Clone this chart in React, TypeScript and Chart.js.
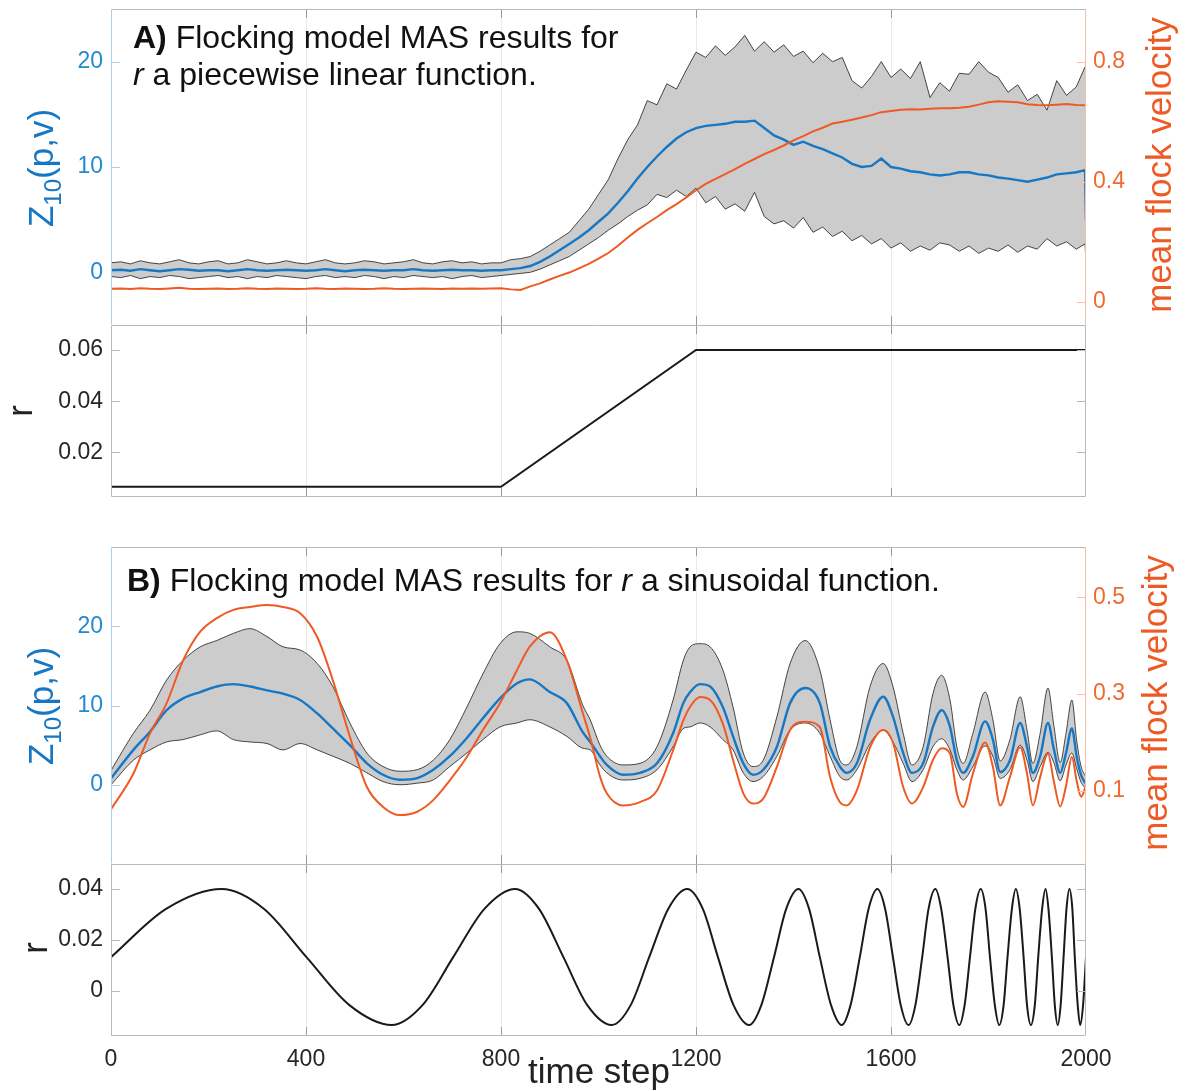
import React, { useEffect, useRef } from "react";
import { Chart, registerables } from "chart.js";
Chart.register(...registerables);

const W = 1197;
const H = 1091;
const FONT = '"Liberation Sans", Arial, Helvetica, sans-serif';

// ---------------- Panel A data (r piecewise linear) ----------------
const aTime = [
  0, 20, 40, 60, 80, 100, 120, 140, 160, 180, 200, 220, 240, 260, 280, 300, 320, 340, 360, 380,
  400, 420, 440, 460, 480, 500, 520, 540, 560, 580, 600, 620, 640, 660, 680, 700, 720, 740, 760, 780,
  800, 820, 840, 860, 880, 900, 920, 940, 960, 980, 1000, 1020, 1040, 1060, 1080, 1100, 1120, 1140, 1160, 1180,
  1200, 1220, 1240, 1260, 1280, 1300, 1320, 1340, 1360, 1380, 1400, 1420, 1440, 1460, 1480, 1500, 1520, 1540, 1560, 1580,
  1600, 1620, 1640, 1660, 1680, 1700, 1720, 1740, 1760, 1780, 1800, 1820, 1840, 1860, 1880, 1900, 1920, 1940, 1960, 1980,
  1998, 2000,
];
const aMean = [
  0.2, 0.25, 0.15, 0.3, 0.2, 0.1, 0.2, 0.3, 0.25, 0.15, 0.2, 0.2, 0.1, 0.2, 0.3, 0.2, 0.15, 0.2, 0.25, 0.2,
  0.15, 0.2, 0.3, 0.2, 0.1, 0.2, 0.25, 0.2, 0.15, 0.2, 0.2, 0.3, 0.2, 0.15, 0.2, 0.25, 0.2, 0.2, 0.15, 0.2,
  0.2, 0.3, 0.4, 0.6, 1.0, 1.5, 2.1, 2.7, 3.3, 4.0, 4.8, 5.6, 6.6, 7.7, 8.9, 10.0, 11.0, 11.9, 12.7, 13.3,
  13.7, 13.9, 14.0, 14.1, 14.3, 14.3, 14.4, 13.7, 13.0, 12.6, 12.1, 12.4, 12.0, 11.7, 11.3, 10.9, 10.3, 10.0, 10.1, 10.8,
  10.0, 9.85, 9.6, 9.5, 9.3, 9.2, 9.3, 9.5, 9.5, 9.3, 9.2, 9.0, 8.9, 8.75, 8.6, 8.8, 9.0, 9.3, 9.4, 9.5,
  9.7, 5.0,
];
const aUpper = [
  0.9, 1.0, 0.8, 1.1, 0.9, 0.8, 1.0, 1.2, 0.9, 0.8, 1.0, 1.1, 0.8, 0.9, 1.2, 1.0, 0.8, 0.9, 1.1, 0.9,
  0.8, 1.0, 1.2, 0.9, 0.8, 0.9, 1.1, 1.0, 0.8, 0.9, 1.0, 1.2, 0.9, 0.8, 1.0, 1.1, 0.9, 1.0, 0.8, 0.9,
  0.9, 1.2, 1.3, 1.5, 2.0, 2.6, 3.2, 3.8, 4.9, 6.0, 7.4, 8.8, 10.8, 12.6, 14.0, 16.3, 15.9, 17.9, 17.4, 19.2,
  20.9, 20.4, 21.5, 20.6, 21.4, 22.5, 21.0, 21.9, 20.9, 21.6, 20.5, 21.0, 19.9, 20.8, 20.0, 20.4, 18.2, 17.5, 18.6, 20.0,
  18.5, 19.3, 18.4, 20.0, 16.6, 18.0, 17.2, 18.9, 18.8, 20.0, 19.0, 18.5, 17.1, 17.8, 16.3, 16.9, 15.4, 18.2, 16.8, 17.6,
  19.5, 19.5,
];
const aLower = [
  -0.4, -0.5, -0.3, -0.6, -0.4, -0.5, -0.3, -0.4, -0.6, -0.5, -0.4, -0.3, -0.5, -0.4, -0.6, -0.4, -0.5, -0.3, -0.4, -0.5,
  -0.6, -0.4, -0.3, -0.5, -0.4, -0.5, -0.3, -0.4, -0.6, -0.4, -0.5, -0.3, -0.4, -0.5, -0.4, -0.6, -0.4, -0.3, -0.5, -0.4,
  -0.3, -0.2, -0.1, 0.0, 0.3, 0.7, 1.1, 1.5, 2.1, 2.7, 3.3, 4.0, 4.6, 5.3, 5.9, 6.4, 7.4, 7.1, 7.8, 7.2,
  8.0, 6.6, 7.2, 6.0, 6.5, 5.8, 7.6, 5.3, 4.6, 4.9, 4.2, 5.2, 3.8, 4.3, 3.4, 3.9, 3.0, 3.5, 2.7, 3.2,
  2.3, 2.8, 2.0, 2.5, 2.1, 2.8, 2.6, 2.0, 2.5, 1.8, 2.3, 2.0, 2.6, 1.9, 2.5, 2.2, 3.2, 2.5, 2.9, 2.2,
  2.7, 0.8,
];
const aVelocity = [
  0.044, 0.045, 0.043, 0.046, 0.044, 0.043, 0.045, 0.047, 0.044, 0.043, 0.044, 0.045, 0.043, 0.044, 0.046, 0.044, 0.043, 0.045, 0.044, 0.043,
  0.044, 0.046, 0.044, 0.043, 0.045, 0.044, 0.043, 0.044, 0.046, 0.044, 0.043, 0.044, 0.045, 0.044, 0.043, 0.045, 0.044, 0.045, 0.044, 0.045,
  0.046, 0.042, 0.04, 0.052, 0.062, 0.075, 0.087, 0.098, 0.112, 0.127, 0.144, 0.163, 0.187, 0.215, 0.24, 0.262, 0.283, 0.306, 0.326, 0.348,
  0.372, 0.393, 0.41, 0.426, 0.442, 0.46, 0.476, 0.492, 0.506, 0.521, 0.538, 0.552, 0.568, 0.58, 0.594, 0.6, 0.607, 0.614, 0.622, 0.632,
  0.636, 0.64, 0.642, 0.641, 0.643, 0.645, 0.645, 0.647, 0.65, 0.657, 0.665, 0.668, 0.667, 0.665, 0.658, 0.656, 0.655, 0.657, 0.659, 0.656,
  0.655, 0.655,
];
const rATime = [0, 800, 1200, 2000];
const rAValue = [0.0065, 0.0065, 0.06, 0.06];

// ---------------- Panel B data (r sinusoidal) ----------------
const bTime = [
  0, 46, 80, 114, 148, 183, 217, 251, 285, 320, 353, 388, 423, 455, 490, 525, 558, 593, 628, 661,
  695, 730, 763, 798, 833, 859, 900, 935, 968, 983, 1003, 1017, 1050, 1085, 1120, 1153, 1174, 1188, 1208, 1229,
  1255, 1276, 1297, 1317, 1338, 1366, 1393, 1424, 1454, 1475, 1495, 1509, 1530, 1557, 1584, 1604, 1625, 1643, 1666, 1686,
  1704, 1721, 1735, 1748, 1768, 1793, 1809, 1824, 1844, 1865, 1879, 1891, 1906, 1922, 1934, 1947, 1959, 1971, 1981, 1990,
  2000,
];
const bMean = [
  0.8, 4.4, 6.7, 9.4, 10.9, 11.7, 12.4, 12.7, 12.4, 11.9, 11.5, 10.7, 9.0, 7.1, 5.0, 2.7, 1.26, 0.63, 0.84, 1.9,
  3.6, 5.9, 8.4, 10.9, 12.8, 13.3, 11.7, 10.3, 6.6, 5.4, 3.6, 2.5, 1.26, 1.5, 2.7, 6.5, 10.3, 11.7, 12.7, 12.4,
  9.8, 6.1, 2.7, 1.26, 1.9, 4.8, 10.3, 12.2, 10.3, 4.8, 2.3, 1.5, 2.7, 8.2, 11.1, 8.6, 4.0, 1.5, 2.7, 7.3,
  9.4, 7.3, 3.1, 1.5, 3.6, 8.0, 5.7, 1.6, 3.1, 7.8, 4.8, 1.5, 3.6, 7.8, 4.5, 1.5, 4.0, 7.1, 3.5, 1.2,
  0.1,
];
const bUpper = [
  1.8, 6.5, 9.4, 13.2, 15.7, 17.4, 18.2, 19.1, 19.7, 18.7, 17.4, 17.0, 15.3, 12.4, 7.8, 4.0, 2.3, 1.7, 1.9, 3.1,
  5.7, 9.8, 14.0, 17.8, 19.3, 19.1, 17.4, 15.7, 10.0, 8.2, 5.0, 3.6, 2.5, 2.7, 4.8, 10.7, 15.7, 17.4, 17.8, 17.4,
  14.5, 9.8, 4.0, 2.3, 3.1, 8.6, 15.3, 18.2, 14.5, 8.2, 3.1, 2.5, 4.8, 12.4, 15.3, 12.4, 6.5, 2.5, 4.8, 11.5,
  13.8, 10.7, 4.8, 2.7, 6.5, 11.7, 8.2, 3.0, 5.7, 11.1, 6.9, 2.7, 6.5, 12.2, 7.5, 2.8, 6.5, 10.7, 5.5, 2.3,
  1.0,
];
const bLower = [
  0.0, 3.1, 4.4, 5.4, 5.7, 6.3, 6.8, 5.7, 5.4, 5.2, 4.4, 5.2, 4.4, 3.6, 2.7, 1.5, 0.4, 0.0, 0.2, 0.6,
  2.3, 4.0, 5.7, 7.3, 7.8, 8.2, 7.3, 6.1, 4.6, 4.4, 2.5, 1.5, 0.6, 0.8, 1.9, 4.8, 7.1, 7.3, 7.8, 7.3,
  5.7, 4.4, 1.5, 0.4, 1.04, 3.6, 6.9, 7.8, 6.5, 3.6, 1.04, 0.6, 1.9, 5.2, 6.9, 5.4, 2.7, 0.4, 1.9, 4.8,
  5.8, 4.4, 1.9, 0.6, 2.3, 4.9, 3.6, 0.8, 1.9, 5.0, 3.1, 0.4, 2.3, 4.1, 2.8, 0.5, 2.5, 4.0, 2.0, 0.3,
  -0.5,
];
const bVelocity = [
  0.062, 0.136, 0.219, 0.281, 0.37, 0.429, 0.457, 0.474, 0.48, 0.484, 0.48, 0.467, 0.418, 0.329, 0.212, 0.108, 0.067, 0.05, 0.057, 0.081,
  0.122, 0.17, 0.226, 0.281, 0.35, 0.398, 0.428, 0.37, 0.26, 0.21, 0.13, 0.095, 0.07, 0.077, 0.101, 0.184, 0.246, 0.274, 0.294, 0.288,
  0.239, 0.164, 0.095, 0.074, 0.084, 0.15, 0.226, 0.243, 0.232, 0.129, 0.077, 0.07, 0.101, 0.19, 0.226, 0.2, 0.108, 0.074, 0.108, 0.164,
  0.188, 0.177, 0.095, 0.067, 0.136, 0.2, 0.15, 0.07, 0.129, 0.19, 0.136, 0.07, 0.129, 0.177, 0.12, 0.068, 0.11, 0.17, 0.12, 0.088,
  0.11,
];
const rBTime = [
  0, 113, 227, 314, 401, 489, 576, 639, 702, 766, 829, 878, 928, 977, 1027, 1066, 1104, 1143, 1182, 1214,
  1245, 1277, 1309, 1334, 1360, 1385, 1410, 1432, 1454, 1477, 1499, 1517, 1536, 1554, 1572, 1588, 1604, 1620, 1636, 1650,
  1664, 1677, 1691, 1703, 1716, 1728, 1740, 1751, 1762, 1773, 1784, 1794, 1803, 1813, 1822, 1831, 1839, 1848, 1856, 1864,
  1872, 1879, 1887, 1895, 1902, 1910, 1917, 1923, 1930, 1936, 1942, 1948, 1954, 1960, 1966, 1972, 1977, 1983, 1988, 1994,
  2000,
];
const rBValue = [
  0.0133, 0.0322, 0.04, 0.0322, 0.0133, -0.0055, -0.0133, -0.0055, 0.0133, 0.0322, 0.04, 0.0322, 0.0133, -0.0055, -0.0133, -0.0055, 0.0133, 0.0322, 0.04, 0.0322,
  0.0133, -0.0055, -0.0133, -0.0055, 0.0133, 0.0322, 0.04, 0.0322, 0.0133, -0.0055, -0.0133, -0.0055, 0.0133, 0.0322, 0.04, 0.0322, 0.0133, -0.0055, -0.0133, -0.0055,
  0.0133, 0.0322, 0.04, 0.0322, 0.0133, -0.0055, -0.0133, -0.0055, 0.0133, 0.0322, 0.04, 0.0322, 0.0133, -0.0055, -0.0133, -0.0055, 0.0133, 0.0322, 0.04, 0.0322,
  0.0133, -0.0055, -0.0133, -0.0055, 0.0133, 0.0322, 0.04, 0.0322, 0.0133, -0.0055, -0.0133, -0.0055, 0.0133, 0.0322, 0.04, 0.0322, 0.0133, -0.0055, -0.0133, -0.0055,
  0.0133,
];

// ---------------- Tick labels ----------------
const xTicks = [0, 400, 800, 1200, 1600, 2000];
const aZTicks = [0, 10, 20];
const aVTicks = [0, 0.4, 0.8];
const aRTicks = [0.02, 0.04, 0.06];
const bZTicks = [0, 10, 20];
const bVTicks = [0.1, 0.3, 0.5];
const bRTicks = [0, 0.02, 0.04];

// ---------------- Styles ----------------
const C_BLUE = "#1677c4";
const C_BLUE_TXT = "#2589d0";
const C_BLUE_AX = "#a9cfec";
const C_ORANGE = "#ef5a24";
const C_ORANGE_TXT = "#ef6a30";
const C_ORANGE_AX = "#f7bda5";
const C_BOX = "#b8b8b8";
const C_GRID = "#e9e9e9";
const C_XTICK = "#9a9a9a";
const C_FILL = "#cccccc";
const C_EDGE = "rgba(40,40,40,0.85)";
const C_TXT = "#262626";
const TICK_SIZE = 23;

const pts = (t: number[], v: number[]) => t.map((x, i) => ({ x, y: v[i] }));

type Run = { text: string; font: string; color: string; dy?: number };
type TextItem = { x: number; y: number; rot?: boolean; align?: "left" | "center"; runs: Run[] };

const f = (size: number, style = "") => `${style} ${size}px ${FONT}`.trim();

function drawRuns(ctx: CanvasRenderingContext2D, item: TextItem) {
  ctx.save();
  ctx.translate(item.x, item.y);
  if (item.rot) ctx.rotate(-Math.PI / 2);
  ctx.textBaseline = "alphabetic";
  ctx.textAlign = "left";
  let total = 0;
  for (const r of item.runs) {
    ctx.font = r.font;
    total += ctx.measureText(r.text).width;
  }
  let x = item.align === "center" ? -total / 2 : 0;
  for (const r of item.runs) {
    ctx.font = r.font;
    ctx.fillStyle = r.color;
    ctx.fillText(r.text, x, r.dy || 0);
    x += ctx.measureText(r.text).width;
  }
  ctx.restore();
}

const framePlugin = {
  id: "frame",
  afterDatasetsDraw(chart: any, _a: any, opts: any) {
    const { ctx, chartArea: a, scales } = chart;
    ctx.save();
    ctx.lineWidth = 1;
    const xs = scales.x;
    ctx.strokeStyle = C_XTICK;
    for (const t of xTicks) {
      if (t === 0 || t === 2000) continue;
      const px = Math.round(xs.getPixelForValue(t)) + 0.5;
      ctx.beginPath();
      ctx.moveTo(px, a.top);
      ctx.lineTo(px, a.top + 9);
      ctx.moveTo(px, a.bottom);
      ctx.lineTo(px, a.bottom - 9);
      ctx.stroke();
    }
    for (const yt of opts.yTicks || []) {
      const s = scales[yt.scale];
      ctx.strokeStyle = yt.color;
      for (const v of yt.values) {
        const py = Math.round(s.getPixelForValue(v)) + 0.5;
        ctx.beginPath();
        if (yt.side === "left") {
          ctx.moveTo(a.left, py);
          ctx.lineTo(a.left + 9, py);
        } else {
          ctx.moveTo(a.right, py);
          ctx.lineTo(a.right - 9, py);
        }
        ctx.stroke();
      }
    }
    const b = opts.borders || {};
    const L = Math.round(a.left) + 0.5;
    const R = Math.round(a.right) - 0.5;
    const T = Math.round(a.top) + 0.5;
    const B = Math.round(a.bottom) - 0.5;
    const line = (x1: number, y1: number, x2: number, y2: number, c: string) => {
      ctx.strokeStyle = c;
      ctx.beginPath();
      ctx.moveTo(x1, y1);
      ctx.lineTo(x2, y2);
      ctx.stroke();
    };
    if (b.top) line(L, T, R, T, b.top);
    if (b.bottom) line(L, B, R, B, b.bottom);
    if (b.left) line(L, T, L, B, b.left);
    if (b.right) line(R, T, R, B, b.right);
    ctx.restore();
  },
  afterDraw(chart: any, _a: any, opts: any) {
    const ctx = chart.ctx;
    for (const t of opts.texts || []) drawRuns(ctx, t);
  },
};

const fixSize = (dim: "width" | "height", size: number) => (s: any) => {
  s[dim] = size;
  s.paddingTop = 0;
  s.paddingBottom = 0;
  s.paddingLeft = 0;
  s.paddingRight = 0;
};
const setTicks = (vals: number[]) => (s: any) => {
  s.ticks = vals.map((v) => ({ value: v }));
};

function xScale(showLabels: boolean) {
  return {
    type: "linear",
    min: 0,
    max: 2000,
    afterBuildTicks: setTicks(xTicks),
    afterFit: fixSize("height", showLabels ? 55 : 0),
    border: { display: false },
    grid: {
      drawTicks: false,
      color: (c: any) => (c.tick && (c.tick.value === 0 || c.tick.value === 2000) ? "rgba(0,0,0,0)" : C_GRID),
      lineWidth: 1,
    },
    ticks: {
      display: showLabels,
      padding: 10,
      color: C_TXT,
      font: { family: FONT, size: TICK_SIZE },
      maxRotation: 0,
      autoSkip: false,
      callback: (v: any) => String(v),
    },
  };
}

function yScale(min: number, max: number, vals: number[], pos: "left" | "right", color: string, pad: number) {
  return {
    type: "linear",
    position: pos,
    min,
    max,
    afterBuildTicks: setTicks(vals),
    afterFit: fixSize("width", 111),
    border: { display: false },
    grid: { display: false, drawTicks: false },
    ticks: {
      padding: pad,
      color,
      font: { family: FONT, size: TICK_SIZE },
      callback: (v: any) => String(v),
    },
  };
}

const lineDs = (data: any, color: string, width: number, axis: string, order: number, extra: any = {}) => ({
  data,
  borderColor: color,
  borderWidth: width,
  pointRadius: 0,
  fill: false,
  yAxisID: axis,
  order,
  tension: 0,
  ...extra,
});

const baseOptions = (padTop: number, padBottom: number, padRight: number) => ({
  responsive: false,
  animation: false,
  devicePixelRatio: 1,
  events: [],
  layout: { padding: { top: padTop, bottom: padBottom, left: 0, right: padRight } },
});

const titleFont = 32;
const labFont = 35;

function configA1() {
  return {
    type: "line",
    data: {
      datasets: [
        lineDs(pts(aTime, aUpper), C_EDGE, 1, "y", 3, { fill: "+1", backgroundColor: C_FILL }),
        lineDs(pts(aTime, aLower), C_EDGE, 1, "y", 2),
        lineDs(pts(aTime, aMean), C_BLUE, 2.4, "y", 1),
        lineDs(pts(aTime, aVelocity), C_ORANGE, 2, "y2", 0),
      ],
    },
    options: {
      ...baseOptions(9, H - 325, 0),
      scales: {
        x: xScale(false),
        y: yScale(-5, 25, aZTicks, "left", C_BLUE_TXT, 8),
        y2: yScale(-0.0766, 0.9754, aVTicks, "right", C_ORANGE_TXT, 7),
      },
      plugins: {
        legend: { display: false },
        tooltip: { enabled: false },
        frame: {
          borders: { top: C_BOX, left: C_BLUE_AX, right: C_ORANGE_AX },
          yTicks: [
            { scale: "y", values: aZTicks, color: C_BLUE_AX, side: "left" },
            { scale: "y2", values: aVTicks, color: C_ORANGE_AX, side: "right" },
          ],
          texts: [
            {
              x: 133, y: 48,
              runs: [
                { text: "A)", font: f(titleFont, "bold"), color: "#111" },
                { text: " Flocking model MAS results for", font: f(titleFont), color: "#111" },
              ],
            },
            {
              x: 133, y: 85,
              runs: [
                { text: "r", font: f(titleFont, "italic"), color: "#111" },
                { text: " a piecewise linear function.", font: f(titleFont), color: "#111" },
              ],
            },
            {
              x: 53, y: 168, rot: true, align: "center",
              runs: [
                { text: "Z", font: f(labFont), color: C_BLUE },
                { text: "10", font: f(24), color: C_BLUE, dy: 8 },
                { text: "(p,v)", font: f(labFont), color: C_BLUE },
              ],
            },
            {
              x: 1171, y: 165, rot: true, align: "center",
              runs: [{ text: "mean flock velocity", font: f(labFont), color: C_ORANGE }],
            },
          ],
        },
      },
    },
    plugins: [framePlugin],
  };
}

function configA2() {
  return {
    type: "line",
    data: {
      datasets: [lineDs(pts(rATime, rAValue), "#1a1a1a", 2, "y", 0)],
    },
    options: {
      ...baseOptions(325, H - 497, 111),
      scales: {
        x: xScale(false),
        y: yScale(0.0025, 0.0698, aRTicks, "left", C_TXT, 8),
      },
      plugins: {
        legend: { display: false },
        tooltip: { enabled: false },
        frame: {
          borders: { top: C_BOX, bottom: C_BOX, left: C_BOX, right: C_BOX },
          yTicks: [
            { scale: "y", values: aRTicks, color: C_BOX, side: "left" },
            { scale: "y", values: aRTicks, color: C_BOX, side: "right" },
          ],
          texts: [
            {
              x: 32, y: 411, rot: true, align: "center",
              runs: [{ text: "r", font: f(labFont), color: "#222" }],
            },
          ],
        },
      },
    },
    plugins: [framePlugin],
  };
}

function configB1() {
  const mono = { cubicInterpolationMode: "monotone" };
  return {
    type: "line",
    data: {
      datasets: [
        lineDs(pts(bTime, bUpper), C_EDGE, 1, "y", 3, { fill: "+1", backgroundColor: C_FILL, ...mono }),
        lineDs(pts(bTime, bLower), C_EDGE, 1, "y", 2, mono),
        lineDs(pts(bTime, bMean), C_BLUE, 2.4, "y", 1, mono),
        lineDs(pts(bTime, bVelocity), C_ORANGE, 2, "y2", 0, mono),
      ],
    },
    options: {
      ...baseOptions(547, H - 864, 0),
      scales: {
        x: xScale(false),
        y: yScale(-10, 30, bZTicks, "left", C_BLUE_TXT, 8),
        y2: yScale(-0.051, 0.604, bVTicks, "right", C_ORANGE_TXT, 7),
      },
      plugins: {
        legend: { display: false },
        tooltip: { enabled: false },
        frame: {
          borders: { top: C_BOX, left: C_BLUE_AX, right: C_ORANGE_AX },
          yTicks: [
            { scale: "y", values: bZTicks, color: C_BLUE_AX, side: "left" },
            { scale: "y2", values: bVTicks, color: C_ORANGE_AX, side: "right" },
          ],
          texts: [
            {
              x: 127, y: 591,
              runs: [
                { text: "B)", font: f(titleFont, "bold"), color: "#111" },
                { text: " Flocking model MAS results for ", font: f(titleFont), color: "#111" },
                { text: "r", font: f(titleFont, "italic"), color: "#111" },
                { text: " a sinusoidal function.", font: f(titleFont), color: "#111" },
              ],
            },
            {
              x: 53, y: 706, rot: true, align: "center",
              runs: [
                { text: "Z", font: f(labFont), color: C_BLUE },
                { text: "10", font: f(24), color: C_BLUE, dy: 8 },
                { text: "(p,v)", font: f(labFont), color: C_BLUE },
              ],
            },
            {
              x: 1167, y: 703, rot: true, align: "center",
              runs: [{ text: "mean flock velocity", font: f(labFont), color: C_ORANGE }],
            },
          ],
        },
      },
    },
    plugins: [framePlugin],
  };
}

function configB2() {
  return {
    type: "line",
    data: {
      datasets: [
        lineDs(pts(rBTime, rBValue), "#1a1a1a", 2, "y", 0, { cubicInterpolationMode: "monotone" }),
      ],
    },
    options: {
      ...baseOptions(864, 0, 111),
      scales: {
        x: xScale(true),
        y: yScale(-0.0176, 0.0498, bRTicks, "left", C_TXT, 8),
      },
      plugins: {
        legend: { display: false },
        tooltip: { enabled: false },
        frame: {
          borders: { top: C_BOX, bottom: C_BOX, left: C_BOX, right: C_BOX },
          yTicks: [
            { scale: "y", values: bRTicks, color: C_BOX, side: "left" },
            { scale: "y", values: bRTicks, color: C_BOX, side: "right" },
          ],
          texts: [
            {
              x: 47, y: 948, rot: true, align: "center",
              runs: [{ text: "r", font: f(labFont), color: "#222" }],
            },
            {
              x: 599, y: 1083, align: "center",
              runs: [{ text: "time step", font: f(labFont), color: "#222" }],
            },
          ],
        },
      },
    },
    plugins: [framePlugin],
  };
}

function ChartLayer({ make }: { make: () => any }) {
  const ref = useRef<HTMLCanvasElement>(null);
  useEffect(() => {
    if (!ref.current) return;
    const chart = new Chart(ref.current, make());
    return () => chart.destroy();
  }, [make]);
  return (
    <canvas
      ref={ref}
      width={W}
      height={H}
      style={{ position: "absolute", left: 0, top: 0, width: W, height: H }}
    />
  );
}

export default function App() {
  return (
    <div style={{ position: "absolute", left: 0, top: 0, width: W, height: H, background: "#fff" }}>
      <ChartLayer make={configA1} />
      <ChartLayer make={configA2} />
      <ChartLayer make={configB1} />
      <ChartLayer make={configB2} />
    </div>
  );
}
